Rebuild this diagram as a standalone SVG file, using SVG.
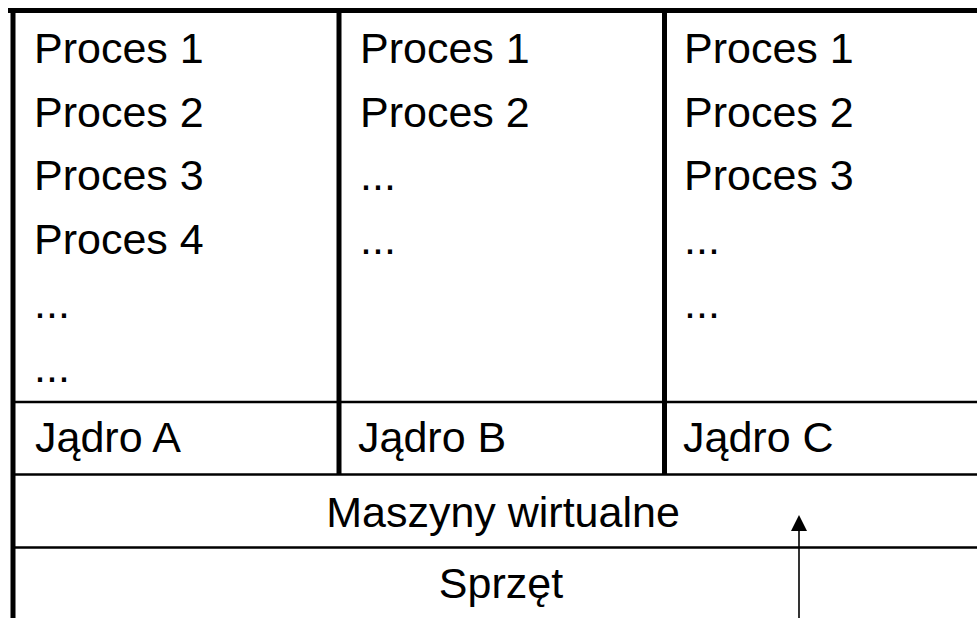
<svg xmlns="http://www.w3.org/2000/svg" width="977" height="618" viewBox="0 0 977 618">
  <style>
    .t { font-family: "Liberation Sans", Arial, sans-serif; font-size: 43px; fill: #000; }
    .c { text-anchor: middle; }
    .thick { stroke: #000; stroke-width: 5; fill: none; }
    .thin { stroke: #000; stroke-width: 2.6; fill: none; }
  </style>
  <defs>
    <marker id="arrowhead" markerUnits="userSpaceOnUse" markerWidth="16" markerHeight="16" refX="8" refY="0" orient="auto" viewBox="0 -8 16 16">
      <path d="M0,-8 L16,0 L0,8 Z" fill="#000"/>
    </marker>
  </defs>
  <rect width="977" height="618" fill="#fff"/>

  <!-- frame and layer dividers -->
  <g id="frame">
    <line class="thick" x1="8" y1="10.5" x2="977" y2="10.5"/>
    <line class="thick" x1="13" y1="8" x2="13" y2="618"/>
    <line class="thick" x1="339" y1="10" x2="339" y2="474"/>
    <line class="thick" x1="664.5" y1="10" x2="664.5" y2="474"/>
    <line class="thin" x1="13" y1="402" x2="977" y2="402"/>
    <line class="thin" x1="13" y1="474.5" x2="977" y2="474.5"/>
    <line class="thin" x1="13" y1="547.5" x2="977" y2="547.5"/>
  </g>

  <g id="column-a">
    <text class="t" x="34" y="63">Proces 1</text>
    <text class="t" x="34" y="127">Proces 2</text>
    <text class="t" x="34" y="190">Proces 3</text>
    <text class="t" x="34" y="254">Proces 4</text>
    <text class="t" x="34" y="318">...</text>
    <text class="t" x="34" y="382">...</text>
  </g>
  <g id="kernel-a"><text class="t" x="35" y="452">Jądro A</text></g>

  <g id="column-b">
    <text class="t" x="360" y="63">Proces 1</text>
    <text class="t" x="360" y="127">Proces 2</text>
    <text class="t" x="360" y="190">...</text>
    <text class="t" x="360" y="254">...</text>
  </g>
  <g id="kernel-b"><text class="t" x="358" y="452">Jądro B</text></g>

  <g id="column-c">
    <text class="t" x="684" y="63">Proces 1</text>
    <text class="t" x="684" y="127">Proces 2</text>
    <text class="t" x="684" y="190">Proces 3</text>
    <text class="t" x="684" y="254">...</text>
    <text class="t" x="684" y="318">...</text>
  </g>
  <g id="kernel-c"><text class="t" x="683" y="452">Jądro C</text></g>

  <g id="virtual-machines"><text class="t c" x="503" y="527">Maszyny wirtualne</text></g>
  <g id="hardware"><text class="t c" x="501" y="598">Sprzęt</text></g>

  <g id="connectors">
    <line x1="799" y1="618" x2="799" y2="523" stroke="#000" stroke-width="1.6" marker-end="url(#arrowhead)"/>
  </g>
</svg>
